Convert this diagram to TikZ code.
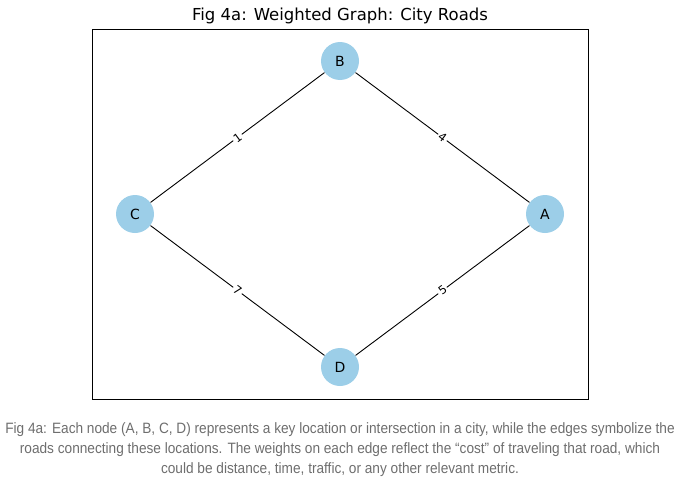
\documentclass[tikz,border=0pt]{standalone}
\usepackage{fontspec}
\setmainfont{DejaVu Sans}
\newfontfamily\capfont[FakeStretch=0.91]{Liberation Sans}
\usetikzlibrary{arrows}
\definecolor{nodeblue}{RGB}{156,206,232}
\definecolor{capgray}{RGB}{110,110,110}

\begin{document}
\begin{tikzpicture}[x=1pt,y=-1pt,auto,thick,
main node/.style={circle,fill=nodeblue,minimum size=38pt,inner sep=0pt,font=\fontsize{14}{16}\selectfont}]
\useasboundingbox (0,0) rectangle (680,479);

\node (title) at (340,16) {\fontsize{16.5}{18}\selectfont Fig 4a: Weighted Graph: City Roads};
\draw[line width=0.8pt] (92,29) rectangle (588,399);

\node[main node] (B) at (340,61) {B};
\node[main node] (C) at (135,214) {C};
\node[main node] (A) at (545,214) {A};
\node[main node] (D) at (340,367) {D};

\path[line width=0.9pt,every node/.style={font=\fontsize{11.5}{13}\selectfont,fill=white,inner sep=1.5pt,sloped,anchor=center}]
(C) edge node {1} (B)
    edge node {7} (D)
(B) edge node {4} (A)
(D) edge node {5} (A);

\node[text=capgray,align=center,font=\capfont\fontsize{15}{20}\selectfont] (caption) at (340,450)
{Fig 4a: Each node (A, B, C, D) represents a key location or intersection in a city, while the edges symbolize the\\
roads connecting these locations. The weights on each edge reflect the “cost” of traveling that road, which\\
could be distance, time, traffic, or any other relevant metric.};

\end{tikzpicture}
\end{document}
